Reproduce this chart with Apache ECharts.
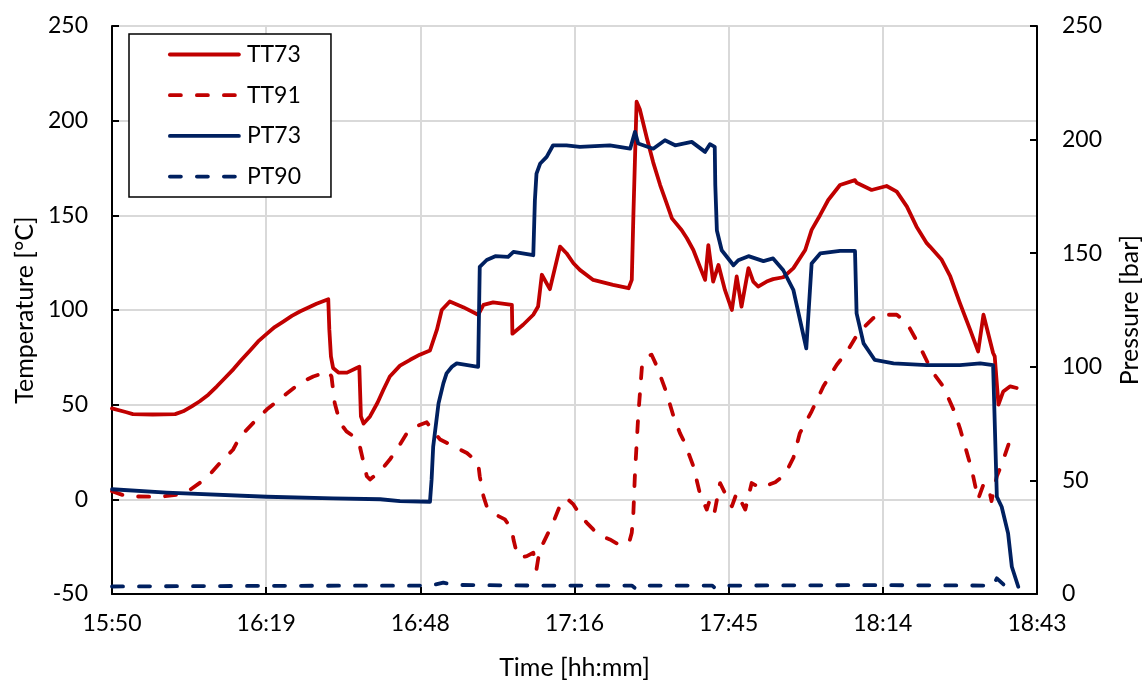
<!DOCTYPE html>
<html>
<head>
<meta charset="utf-8">
<script src="https://cdn.jsdelivr.net/npm/echarts@6/dist/echarts.min.js"></script>
<style>
  html, body { margin: 0; padding: 0; background: #fff; }
  #chart { width: 1143px; height: 682px; }
</style>
</head>
<body>
<div id="chart"></div>
<script>
// Time is in minutes after midnight; temperatures in °C, pressures in bar.
const TT73 = [
  [950.4, 48], [953.1, 46], [954.3, 45], [958.0, 44.8], [962.2, 45], [963.7, 46.5],
  [965.3, 49.1], [966.8, 51.8], [968.4, 55.3], [970.0, 59.7], [971.5, 64.1], [973.1, 68.8],
  [974.6, 73.7], [976.2, 78.6], [977.7, 83.4], [979.3, 87.4], [980.8, 91], [982.4, 93.9],
  [984.0, 96.9], [985.5, 99.2], [987.1, 101.3], [988.6, 103.3], [990.8, 105.7],
  [991.0, 89.6], [991.3, 75.5], [991.7, 69.4], [992.7, 67], [994.3, 66.9], [996.1, 69.4],
  [996.6, 70], [996.9, 43.8], [997.4, 40], [998.6, 43.8], [1000.0, 51], [1001.1, 57.9],
  [1002.3, 64.9], [1004.2, 70.6], [1006.1, 73.7], [1007.9, 76.4], [1009.8, 78.6],
  [1011.1, 89.6], [1012.0, 100], [1013.5, 104.5], [1016.0, 101.5], [1018.8, 97.5],
  [1019.8, 102.7], [1021.6, 104], [1025.1, 102.7], [1025.2, 87.5], [1027.2, 92.2],
  [1029.1, 97.5], [1030.0, 101.8], [1030.7, 118.6], [1032.2, 111], [1034.1, 133.5],
  [1035.3, 130], [1036.6, 124.7], [1037.8, 121.2], [1040.3, 115.9], [1044.0, 113.3],
  [1046.9, 111.5], [1047.5, 115.9], [1047.8, 150], [1048.4, 210], [1049.0, 206],
  [1050.3, 191], [1051.5, 178], [1052.8, 166], [1054.0, 156.4], [1055.0, 148.4],
  [1056.8, 142.3], [1057.8, 137.9], [1059.0, 131.7], [1060.2, 123], [1061.2, 115.9],
  [1061.8, 134.3], [1062.7, 115], [1063.7, 123.8], [1064.9, 110.6], [1066.2, 100],
  [1067.1, 117.7], [1068.0, 101.8], [1069.3, 122.1], [1070.2, 115], [1071.1, 112.4],
  [1072.7, 115], [1073.9, 116.3], [1075.8, 117.3], [1077.7, 122.1], [1079.9, 131.7],
  [1081.1, 142.3], [1082.7, 150.2], [1084.2, 158.1], [1086.4, 166], [1089.2, 168.6],
  [1089.5, 167.2], [1092.3, 163.4], [1095.1, 165.5], [1097.0, 162.5], [1098.9, 154.6],
  [1100.7, 144], [1102.6, 135.3], [1103.2, 133.5], [1105.4, 126.5], [1107.0, 117.7],
  [1108.8, 103.6], [1110.7, 89.6], [1112.2, 78.1], [1113.2, 97.5], [1115.0, 77.3],
  [1115.3, 75.5], [1116.0, 50], [1116.9, 57], [1118.2, 59.7], [1119.4, 58.8]
];

const TT91 = [
  [950.4, 4.3], [953.1, 1.6], [959.4, 1.3], [963.1, 2.7], [965.0, 5.1], [968.1, 11.3],
  [970.6, 19.3], [973.0, 26.2], [974.3, 33], [976.8, 40.4], [979.3, 47.4], [982.4, 54.4],
  [985.5, 61.4], [988.0, 64.9], [990.8, 67.6], [991.4, 64.9], [992.0, 50.9], [993.0, 40.4],
  [994.2, 35.9], [995.5, 33.3], [996.7, 28], [997.4, 19.3], [998.0, 12.2], [998.6, 10.5],
  [1000.5, 14.8], [1002.3, 21], [1004.0, 28], [1005.5, 35.1], [1007.3, 38.6], [1009.2, 40.7],
  [1010.4, 35.9], [1011.7, 31.6], [1015.4, 26.3], [1016.7, 24.5], [1018.8, 19.3],
  [1019.1, 12.2], [1019.8, 1.6], [1020.4, -3.7], [1022.0, -8], [1023.8, -10.6],
  [1025.1, -15.9], [1025.4, -21.2], [1026.0, -28.2], [1026.6, -30.8], [1027.9, -30],
  [1029.1, -28.2], [1029.7, -37], [1030.3, -26.4], [1031.0, -22.9], [1032.8, -12.4],
  [1034.4, -1], [1035.6, -0.1], [1036.6, -2.7], [1037.8, -8], [1039.1, -12.4],
  [1040.3, -15.9], [1041.9, -19.4], [1043.4, -21.2], [1045.0, -23.8], [1047.0, -22.9],
  [1047.5, -17.6], [1047.8, -7.1], [1048.1, 14], [1048.4, 28.9], [1048.7, 43.8],
  [1049.4, 70.2], [1050.3, 75.5], [1051.2, 76.4], [1052.2, 70.2], [1054.0, 56.2],
  [1055.3, 43.8], [1056.5, 35], [1057.4, 29.8], [1059.0, 17.5], [1060.2, 3.4],
  [1061.5, -5.4], [1062.1, -0.1], [1063.0, -6.2], [1064.0, 8.6], [1065.2, 1.6],
  [1066.2, -3.7], [1067.1, 3.4], [1068.7, -5.4], [1069.9, 8.6], [1071.5, 6],
  [1074.3, 9], [1076.1, 13], [1077.7, 22], [1078.9, 35], [1081.1, 46.5], [1083.3, 59.7],
  [1085.8, 71.1], [1087.7, 78], [1089.8, 87.8], [1092.6, 95.7], [1094.5, 97.5],
  [1097.0, 97.5], [1098.9, 93.1], [1101.3, 80.8], [1103.5, 68], [1105.7, 59.5],
  [1107.6, 47.4], [1108.8, 37.5], [1109.4, 31.6], [1111.0, 15.8], [1112.2, 0],
  [1113.2, 7.9], [1114.1, 7], [1114.7, -0.9], [1115.7, 12.2], [1116.6, 18.4],
  [1118.2, 31.6], [1119.4, 33]
];

const PT73 = [
  [950.4, 46.1], [960.6, 44.6], [979.3, 42.8], [991.7, 42.1], [1000.5, 41.7],
  [1004.2, 40.9], [1009.8, 40.6], [1010.1, 50.2], [1010.4, 64.8], [1011.4, 83.9],
  [1012.3, 92.7], [1012.9, 97.1], [1013.9, 100], [1014.8, 101.5], [1018.8, 100],
  [1019.1, 144], [1020.4, 147], [1022.0, 148.7], [1024.4, 148.4], [1025.4, 150.6],
  [1029.1, 149.1], [1029.4, 173.3], [1029.7, 185], [1030.4, 189.5], [1031.6, 192.4],
  [1032.8, 197.5], [1035.3, 197.5], [1037.8, 196.8], [1043.4, 197.5], [1047.2, 196],
  [1048.1, 203.4], [1048.7, 198.3], [1051.5, 196], [1053.7, 199.7], [1055.6, 197.5],
  [1058.7, 199], [1061.2, 194.6], [1062.1, 198], [1063.0, 196.8], [1063.1, 180],
  [1063.4, 160], [1064.3, 151.3], [1066.5, 144.7], [1067.4, 146.9], [1069.3, 148.7],
  [1072.1, 146.5], [1073.9, 147.7], [1075.8, 142.5], [1077.7, 133.7], [1080.1, 108.1],
  [1081.1, 145.5], [1082.7, 149.9], [1086.4, 151], [1089.2, 151], [1089.5, 123.5],
  [1090.8, 110.3], [1092.9, 103], [1096.4, 101.5], [1102.6, 100.7], [1108.8, 100.7],
  [1112.6, 101.5], [1115.0, 100.7], [1115.7, 42.8], [1116.6, 38.4], [1117.8, 26.7],
  [1118.5, 12], [1119.7, 3.2]
];

const PT90 = [
  [950.4, 3.3], [980.0, 3.6], [1010.0, 3.7], [1012.3, 5.0], [1014.0, 4.0],
  [1030.0, 3.7], [1047.5, 3.7], [1048.1, 2.6], [1048.7, 3.7], [1062.5, 3.7],
  [1063.0, 2.8], [1063.5, 3.7], [1092.0, 3.9], [1115.0, 3.7], [1115.7, 6.9],
  [1117.5, 3.0], [1119.4, 0.3]
];

const SERIES_NAMES = ['TT73', 'TT91', 'PT73', 'PT90'];
const TEMP_TICKS = { min: -50, max: 250, step: 50 };
const PRES_TICKS = { min: 0, max: 250, step: 50 };
const TIME_TICKS = { min: 950.4, max: 1123.2, step: 28.8 };

const RED = '#C00000';
const NAVY = '#002060';
const FONT = 'Lato, "Open Sans", sans-serif';
const TXT = { fontFamily: FONT, fontSize: 23, color: '#000' };
const NAME_TXT = { fontFamily: FONT, fontSize: 25, color: '#000' };
const LINE_W = 3.8;
const DASH = [11, 16];

// Clock label for a minutes-after-midnight value.
function clock(v) {
  const m = Math.floor(v + 1e-6);
  const h = Math.floor(m / 60);
  const mm = m % 60;
  return h + ':' + (mm < 10 ? '0' : '') + mm;
}

const axisLine = { show: true, onZero: false, lineStyle: { color: '#000', width: 2 } };
const axisTick = { show: true, inside: true, length: 7, lineStyle: { color: '#000', width: 2 } };
const grid = { show: true, lineStyle: { color: '#d9d9d9', width: 2 } };

function lineSeries(name, data, color, dashed, axis) {
  return {
    name, type: 'line', data, yAxisIndex: axis,
    showSymbol: false, symbol: 'none', smooth: false,
    lineStyle: { color, width: LINE_W, type: dashed ? DASH : 'solid', cap: 'round', join: 'round' },
    itemStyle: { color }
  };
}

const chart = echarts.init(document.getElementById('chart'), null, { renderer: 'canvas' });
chart.setOption({
  animation: false,
  backgroundColor: '#fff',
  textStyle: { fontFamily: FONT },
  grid: { left: 112, right: 106, top: 26, bottom: 88, containLabel: false, outerBoundsMode: 'none' },
  legend: {
    orient: 'vertical', left: 129, top: 34,
    padding: [9, 30, 9, 39], itemGap: 17.7, itemWidth: 69, itemHeight: 24,
    borderColor: '#000', borderWidth: 1.5, backgroundColor: '#fff',
    itemStyle: { opacity: 0 },
    lineStyle: { width: LINE_W, cap: 'round' },
    textStyle: Object.assign({}, TXT, { padding: [0, 0, 0, 3] }),
    data: SERIES_NAMES
  },
  xAxis: {
    type: 'value', min: TIME_TICKS.min, max: TIME_TICKS.max, interval: TIME_TICKS.step,
    name: 'Time [hh:mm]', nameLocation: 'middle', nameGap: 61, nameTextStyle: NAME_TXT,
    axisLine, axisTick, splitLine: grid,
    axisLabel: Object.assign({}, TXT, { margin: 18, formatter: clock, showMinLabel: true, showMaxLabel: true })
  },
  yAxis: [
    {
      type: 'value', position: 'left', min: TEMP_TICKS.min, max: TEMP_TICKS.max, interval: TEMP_TICKS.step,
      name: 'Temperature [°C]', nameLocation: 'middle', nameGap: 73, nameTextStyle: NAME_TXT,
      axisLine, axisTick, splitLine: grid,
      axisLabel: Object.assign({}, TXT, { margin: 24 })
    },
    {
      type: 'value', position: 'right', min: PRES_TICKS.min, max: PRES_TICKS.max, interval: PRES_TICKS.step,
      name: 'Pressure [bar]', nameLocation: 'middle', nameGap: 80, nameTextStyle: NAME_TXT,
      axisLine, axisTick, splitLine: { show: false },
      axisLabel: Object.assign({}, TXT, { margin: 25 })
    }
  ],
  series: [
    lineSeries('TT73', TT73, RED, false, 0),
    lineSeries('TT91', TT91, RED, true, 0),
    lineSeries('PT73', PT73, NAVY, false, 1),
    lineSeries('PT90', PT90, NAVY, true, 1)
  ]
});
</script>
</body>
</html>
